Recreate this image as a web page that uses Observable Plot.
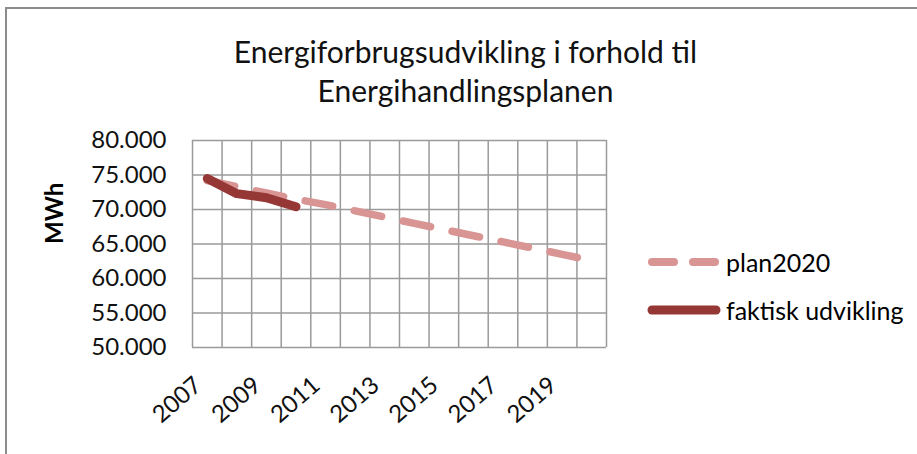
<!DOCTYPE html>
<html>
<head>
<meta charset="utf-8">
<script src="https://cdn.jsdelivr.net/npm/d3@7"></script>
<script src="https://cdn.jsdelivr.net/npm/@observablehq/plot@0.6"></script>
<style>
  html, body { margin: 0; padding: 0; background: #fff; }
  #wrap { position: relative; width: 917px; height: 454px; overflow: hidden; background: #fff; font-family: Lato, "Open Sans", sans-serif; }
  #border { position: absolute; left: 5px; top: 7px; width: 940px; height: 470px; border-left: 2px solid #8c8c8c; border-top: 2px solid #8c8c8c; box-sizing: border-box; }
  #chart { position: absolute; left: 0; top: 0; }
  .title { position: absolute; left: 0; width: 931px; text-align: center; font-size: 30px; color: #111; line-height: 1; }
  .leg { position: absolute; left: 646px; font-size: 25px; color: #000; display: flex; align-items: center; }
  .leg svg { margin-right: 4px; }
</style>
</head>
<body>
<div id="wrap">
  <div id="chart"></div>
  <div id="border"></div>
  <div class="title" style="top:36px">Energiforbrugsudvikling i forhold til</div>
  <div class="title" style="top:75px">Energihandlingsplanen</div>
  <div class="leg" id="leg1" style="top:247px"></div>
  <div class="leg" id="leg2" style="top:295px"></div>
</div>
<script>
// ---- data ----
const years = [2007, 2008, 2009, 2010, 2011, 2012, 2013, 2014, 2015, 2016, 2017, 2018, 2019, 2020];
const plan2020 = [74200, 73300, 72400, 71500, 70700, 69800, 68900, 68000, 67100, 66200, 65300, 64400, 63500, 62600];
const faktiskYears = [2007, 2008, 2009, 2010];
const faktiskUdvikling = [74500, 72300, 71700, 70400];
const xTickLabels = [2007, 2009, 2011, 2013, 2015, 2017, 2019];
const yTicks = [50000, 55000, 60000, 65000, 70000, 75000, 80000];
const seriesNames = ["plan2020", "faktisk udvikling"];
const yLabel = "MWh";

const planColor = "#d99594";
const faktiskColor = "#953735";
const gridColor = "#9a9a9a";

const planData = years.map((year, i) => ({year, value: plan2020[i]}));
const faktiskData = faktiskYears.map((year, i) => ({year, value: faktiskUdvikling[i]}));
const boundaries = years.map(y => y - 0.5).concat([years[years.length - 1] + 0.5]);
const fmt = d => d3.format(",")(d).replace(/,/g, ".");

const chart = Plot.plot({
  width: 917,
  height: 454,
  marginLeft: 192,
  marginRight: 311,
  marginTop: 140,
  marginBottom: 107,
  style: {fontFamily: "Lato, 'Open Sans', sans-serif", fontSize: "24px", color: "#000", background: "transparent", overflow: "visible"},
  x: {domain: [boundaries[0], boundaries[boundaries.length - 1]], axis: null},
  y: {domain: [yTicks[0], yTicks[yTicks.length - 1]], axis: null},
  marks: [
    Plot.ruleX(boundaries, {stroke: gridColor, strokeWidth: 1.5}),
    Plot.ruleY(yTicks, {stroke: gridColor, strokeWidth: 1.5}),
    Plot.line(planData, {x: "year", y: "value", stroke: planColor, strokeWidth: 7.5, strokeDasharray: "28,22", strokeLinecap: "round", strokeLinejoin: "round"}),
    Plot.line(faktiskData, {x: "year", y: "value", stroke: faktiskColor, strokeWidth: 9, strokeLinecap: "round", strokeLinejoin: "round"}),
    Plot.text(yTicks, {y: d => d, text: d => fmt(d), frameAnchor: "left", textAnchor: "end", dx: -26, fontSize: 24, fill: "#111"}),
    Plot.text(xTickLabels, {x: d => d, text: d => String(d), frameAnchor: "bottom", textAnchor: "end", rotate: -41, dx: -4, dy: 40, fontSize: 24, fill: "#111"}),
    Plot.text([yLabel], {text: d => d, frameAnchor: "left", rotate: -90, dx: -137, fontSize: 24, fontWeight: "bold", fill: "#000"})
  ]
});
document.getElementById("chart").appendChild(chart);

// legend
function swatch(dashed, color, w) {
  const svg = d3.create("svg").attr("width", 76).attr("height", 20);
  svg.append("line").attr("x1", 6).attr("x2", 70).attr("y1", 10).attr("y2", 10)
    .attr("stroke", color).attr("stroke-width", w).attr("stroke-linecap", "round")
    .attr("stroke-dasharray", dashed ? "22,19" : null);
  return svg.node();
}
const l1 = document.getElementById("leg1");
l1.appendChild(swatch(true, planColor, 8));
l1.appendChild(document.createTextNode(seriesNames[0]));
const l2 = document.getElementById("leg2");
l2.appendChild(swatch(false, faktiskColor, 9));
l2.appendChild(document.createTextNode(seriesNames[1]));
</script>
</body>
</html>
